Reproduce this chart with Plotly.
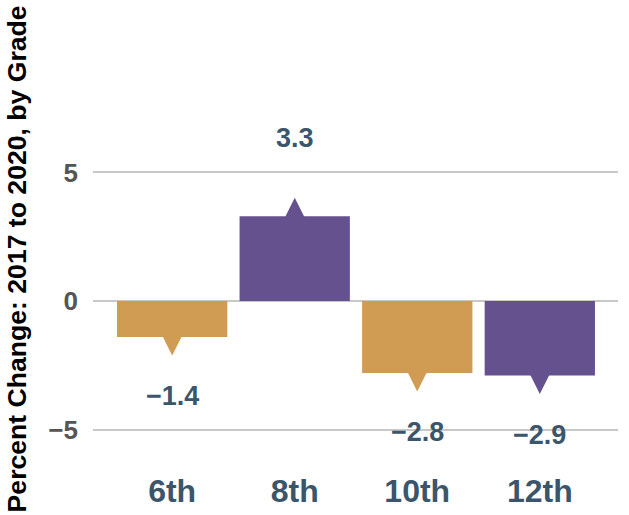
import plotly.graph_objects as go

grades = ["6th", "8th", "10th", "12th"]
pct_change = [-1.4, 3.3, -2.8, -2.9]
bar_colors = ["#D09B52", "#65518E", "#D09B52", "#65518E"]
label_text = ["\u22121.4", "3.3", "\u22122.8", "\u22122.9"]
y_ticks = [-5, 0, 5]
y_tick_text = ["\u22125", "0", "5"]
y_title = "Percent Change: 2017 to 2020, by Grade"

FONT = "Liberation Sans, Arial, Helvetica, sans-serif"
LABEL_COLOR = "#3B566B"

fig = go.Figure()
fig.add_trace(go.Bar(
    x=grades, y=pct_change, marker=dict(color=bar_colors, line=dict(width=0)),
    width=0.9, hoverinfo="skip", showlegend=False,
))

# pointer triangles at bar ends
tip_offset = 0.72
fig.add_trace(go.Scatter(
    x=grades,
    y=[v + (tip_offset if v > 0 else -tip_offset) for v in pct_change],
    mode="markers",
    marker=dict(
        symbol=["arrow-up" if v > 0 else "arrow-down" for v in pct_change],
        size=21, color=bar_colors, line=dict(width=0),
    ),
    hoverinfo="skip", showlegend=False,
))

for g, v, t in zip(grades, pct_change, label_text):
    fig.add_annotation(
        x=g, y=v, text=t, showarrow=False,
        yshift=78 if v > 0 else -59,
        font=dict(family=FONT, size=27, color=LABEL_COLOR, weight="bold"),
    )

# y-axis title, centred on the page height
fig.add_annotation(
    xref="paper", yref="paper", x=-0.145, y=0.456,
    xanchor="center", yanchor="middle", textangle=-90,
    text=y_title, showarrow=False,
    font=dict(family=FONT, size=26.6, color="black", weight="bold"),
)

fig.update_layout(
    width=629, height=515,
    margin=dict(l=93, r=11, t=11, b=49),
    plot_bgcolor="white", paper_bgcolor="white",
    font=dict(family=FONT),
    xaxis=dict(
        range=[-0.646, 3.638], showgrid=False, zeroline=False, showline=False,
        ticks="", automargin=False, ticklabelstandoff=3,
        tickfont=dict(family=FONT, size=32, color=LABEL_COLOR, weight="bold"),
    ),
    yaxis=dict(
        range=[-6.42, 11.28], tickvals=y_ticks, ticktext=y_tick_text,
        showgrid=True, gridcolor="#C8C8C8", gridwidth=2,
        zeroline=False, showline=False, ticks="", automargin=False,
        ticklabelstandoff=14,
        tickfont=dict(family=FONT, size=26, color="#555555", weight="bold"),
    ),
)

fig.write_html("out.html", config={"displayModeBar": False},
               post_script="document.body.style.margin='0';")
